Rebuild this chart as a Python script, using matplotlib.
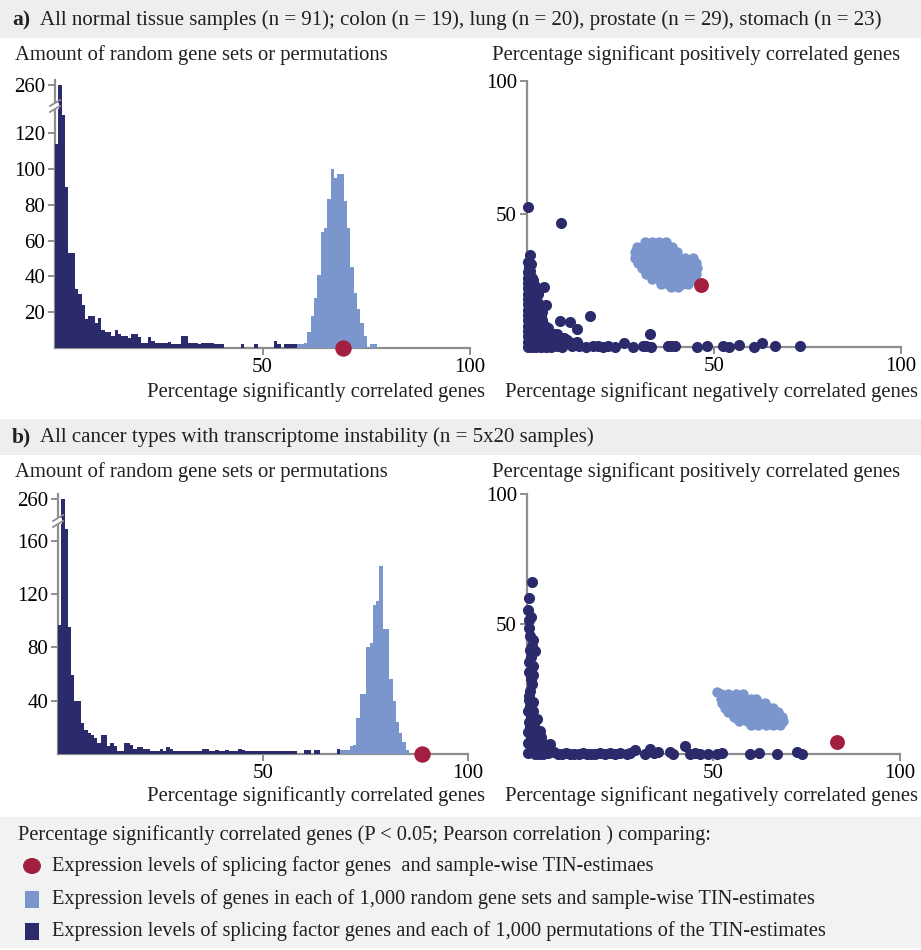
import numpy as np
import matplotlib
matplotlib.use('Agg')
from matplotlib import pyplot as plt
from matplotlib.patches import Rectangle, Ellipse
from matplotlib.lines import Line2D

plt.rcParams['font.family'] = ['Liberation Serif', 'DejaVu Serif']
plt.rcParams['font.size'] = 15
plt.rcParams['text.color'] = '#231f20'

NAVY = '#2b2a6b'
LIGHT = '#7b96cc'
RED = '#a31f3f'
AXIS = '#8e8e8e'
BAND = '#eeeeee'

BIN = 0.8  # histogram bin width in percent

# panel a: normal tissue
perm_a_start = 0.0
perm_a = [114, 260, 130, 90, 53, 53, 33, 30, 24, 16, 18, 18, 14, 17, 10, 9, 9, 7,
          10, 8, 7, 7, 5.5, 8, 8, 6, 3, 3, 6, 4, 3, 3, 3, 3, 3.5, 2, 2, 2, 7, 7,
          3, 3, 3, 2, 3, 3, 3, 3, 2, 2, 2,
          0, 0, 0, 0, 0, 2, 0, 0, 0, 2, 0, 0, 0, 0, 0, 4, 2, 0, 2, 2, 2, 2]
rand_a_start = 58.4
rand_a = [2, 2, 3, 9, 18, 28, 41, 65, 67, 83, 100, 95, 97, 97, 82, 67, 45, 31,
          22, 14, 7, 0, 2, 2]
sf_a = 69.5

# panel b: cancer types
perm_b_start = 0.0
perm_b = [97, 260, 169, 95, 59, 40, 40, 23, 18, 16, 14, 12, 8, 14, 14, 6, 8, 6,
          2.5, 2.5, 8, 8, 7, 4, 5.5, 5, 4, 4, 2, 2, 2, 4, 2, 5.5, 3.5, 2,
          2, 2, 2, 2, 2, 2, 2, 2, 4, 4,
          2.5, 2.5, 3, 2.5, 2.5, 3, 2.5, 2.5, 2.5, 3.5, 3, 2.5, 2.5, 2.5, 2, 2.5,
          2.5, 2, 2.5, 2.5, 2, 2.5, 2.5, 2.5, 2, 2.5, 2,
          0, 0, 3, 3, 0, 3, 3, 0, 0, 0, 0, 0, 4]
rand_b_start = 68.8
rand_b = [3, 3, 3, 6, 7, 27, 45, 45, 80, 83, 112, 115, 141, 94, 94, 56, 40, 24,
          16, 9, 3]
sf_b = 88.7

# scatter: splicing factor genes vs permuted TIN (negative %, positive %)
perm_pts_a = [
    (0.4, 0), (0.4, 2), (0.4, 4), (0.4, 6), (0.4, 8), (0.4, 10), (0.4, 12),
    (0.4, 14), (0.4, 16), (0.4, 18), (0.4, 20), (0.4, 22), (0.4, 24), (0.4, 26),
    (0.4, 28), (0.6, 30), (0.3, 32), (0.9, 34.6), (1.2, 31), (1.0, 28.5),
    (1.3, 26), (1.5, 23), (1.4, 20), (1.6, 17), (1.5, 14), (1.6, 11), (1.5, 8),
    (1.6, 5), (1.5, 2), (1.5, 0), (2.6, 0), (2.7, 3), (2.8, 6), (2.8, 9),
    (2.7, 12), (2.6, 15), (2.5, 18), (2.2, 23), (3.8, 0), (3.9, 2.5), (4.0, 5.5),
    (3.9, 8.5), (3.8, 11.5), (3.4, 14.0), (4.5, 22.7), (5.2, 15.8), (5.2, 0),
    (5.3, 2.5), (5.5, 5), (5.0, 8.0), (6.6, 0), (6.8, 2), (6.5, 4.5), (7.7, 5),
    (8.2, 0.5), (9.0, 1.5), (9.5, 0), (8.2, 4.9), (11.3, 2.0), (13.5, 2.0),
    (2.0, 1), (2.0, 4), (2.0, 7), (2.0, 10), (2.0, 13), (2.0, 16), (2.0, 19),
    (2.0, 22), (1.8, 25), (3.0, 1.5), (3.0, 4.5), (3.0, 7.5), (3.0, 10.5),
    (3.0, 13.5), (3.0, 16.5), (3.0, 20), (4.2, 1), (4.2, 4), (4.2, 7), (4.2, 10),
    (4.2, 13), (5.2, 1.5), (5.2, 4.5), (5.8, 7), (6.5, 1), (7.5, 2), (7.2, 3.5),
    (10.0, 1), (12.0, 1.5), (10.0, 3.5),
    (8.8, 9.9), (11.7, 9.3), (16.8, 11.8), (13.5, 6.6), (10.8, 2.5), (12.2, 0.5),
    (14.0, 0.3), (15.8, 0), (0.4, 52.4), (9.2, 46.7),
    (17.6, 0.3), (19.0, 0.3), (20.3, 0), (21.7, 0.3), (23.5, 0), (26.1, 1.6),
    (28.3, 0), (31.1, 0.3), (32.0, 0.5), (33.0, 4.8), (33.3, 0), (37.8, 0.3),
    (38.7, 0.5), (39.6, 0.3), (45.5, 0), (48.2, 0.2), (52.6, 0.5), (54.0, 0),
    (56.8, 0.8), (60.7, 0), (63.0, 1.4), (66.5, 0.3), (73.1, 0.3),
]
perm_pts_b = [
    (1.3, 66.1), (0.7, 59.9), (0.3, 55.4), (1.2, 52.8), (0.6, 51.5), (0.5, 48.6),
    (1.8, 44.1), (1.0, 45.5), (2.2, 39.6), (0.9, 40), (1.5, 41.5), (0.7, 35.5),
    (1.8, 33.9), (1.1, 37.5), (1.1, 29), (0.5, 31.5), (1.6, 30.5), (1.4, 27),
    (0.9, 24.5), (0.5, 22.5), (0.5, 20.7), (1.0, 18.5), (0.4, 16.5), (1.2, 14.5),
    (0.5, 12.5), (1.0, 10.5), (0.4, 8.5), (1.1, 6.5), (0.4, 4.5), (1.1, 2.5),
    (0.4, 0.5), (1.8, 16.5), (1.8, 20), (1.9, 5.5), (2.0, 2), (3.0, 1.5),
    (4.0, 3), (2.8, 8), (3.9, 6.5), (5.0, 2.5), (4.5, 0.2),
    (2.2, 0.3), (2.4, 3), (2.3, 6), (2.2, 9), (2.7, 13.6), (2.0, 11.5), (3.6, 9.1),
    (3.3, 6), (3.2, 3), (3.4, 0.3), (4.5, 1.5), (4.6, 4), (6.3, 3.9), (5.6, 0.5),
    (7.2, 0.8), (8.3, 0.2), (9.4, 0.3), (10.6, 0.5), (11.6, 0.2), (12.8, 0.3),
    (13.9, 0.2), (15.0, 0.4), (16.1, 0.2), (17.2, 0.3), (18.3, 0.2), (19.6, 0.4),
    (21.0, 0.3), (22.3, 0.5), (23.7, 0.2), (25.0, 0.4), (26.8, 0.2), (27.8, 0.6),
    (29.0, 1.8), (31.7, 0.2), (33.1, 2.0), (34.2, 0.6), (35.3, 1.0), (38.4, 1.0),
    (39.3, 0.2), (42.4, 3.2), (43.8, 0.3), (45.2, 0.5), (46.5, 0.2), (48.7, 0.3),
    (51.0, 0.2), (52.3, 0.4), (59.9, 0.2), (62.1, 0.4), (67.0, 0.2), (72.4, 0.9),
    (73.7, 0.1),
]

# scatter: random gene sets vs TIN
rand_pts_a = [
    (31.5, 39.3), (33.5, 39.3), (35.5, 39.3), (37.3, 39.3),
    (29.5, 37.5), (31.3, 37.5), (33.2, 37.5), (35.1, 37.5), (37.0, 37.5), (38.8, 37.5),
    (29.0, 35.5), (30.9, 35.5), (32.8, 35.5), (34.7, 35.5), (36.6, 35.5), (38.5, 35.5),
    (40.2, 35.5),
    (29.0, 33.5), (30.9, 33.5), (32.8, 33.5), (34.7, 33.5), (36.6, 33.5), (38.5, 33.5),
    (40.4, 33.5), (42.3, 33.5), (44.5, 33.5),
    (29.8, 31.5), (31.7, 31.5), (33.6, 31.5), (35.5, 31.5), (37.4, 31.5), (39.3, 31.5),
    (41.2, 31.5), (43.1, 31.5), (45.2, 31.5),
    (30.8, 29.5), (32.7, 29.5), (34.6, 29.5), (36.5, 29.5), (38.4, 29.5), (40.3, 29.5),
    (42.2, 29.5), (44.1, 29.5), (45.6, 29.5),
    (32.0, 27.5), (33.9, 27.5), (35.8, 27.5), (37.7, 27.5), (39.6, 27.5), (41.5, 27.5),
    (43.4, 27.5), (45.3, 27.5),
    (33.6, 25.5), (35.5, 25.5), (37.4, 25.5), (39.3, 25.5), (41.2, 25.5), (43.1, 25.5),
    (44.6, 25.5),
    (35.8, 23.6), (37.7, 23.6), (39.6, 23.6), (41.5, 23.6), (43.0, 23.6),
    (38.5, 22.7), (40.5, 22.7),
]
rand_pts_b = [
    (51.0, 24.0),
    (52.0, 23.0), (54.0, 23.0), (56.0, 23.0), (58.0, 23.0),
    (52.0, 21.3), (54.0, 21.3), (56.0, 21.3), (58.0, 21.3), (60.0, 21.3), (61.5, 21.3),
    (52.3, 19.6), (54.3, 19.6), (56.3, 19.6), (58.3, 19.6), (60.3, 19.6), (62.3, 19.6),
    (63.8, 19.6),
    (53.0, 17.9), (55.0, 17.9), (57.0, 17.9), (59.0, 17.9), (61.0, 17.9), (63.0, 17.9),
    (65.0, 17.9), (66.0, 17.9),
    (54.0, 16.2), (56.0, 16.2), (58.0, 16.2), (60.0, 16.2), (62.0, 16.2), (64.0, 16.2),
    (66.0, 16.2), (67.3, 16.2),
    (55.5, 14.5), (57.5, 14.5), (59.5, 14.5), (61.5, 14.5), (63.5, 14.5), (65.5, 14.5),
    (67.5, 14.5), (68.5, 14.5),
    (57.0, 12.8), (59.0, 12.8), (61.0, 12.8), (63.0, 12.8), (65.0, 12.8), (67.0, 12.8),
    (68.6, 12.8),
    (60.0, 11.1), (62.0, 11.1), (64.0, 11.1), (66.0, 11.1), (67.8, 11.1),
]
sf_pt_a = (46.7, 23.3)
sf_pt_b = (83.1, 4.9)

W, H = 921, 950
fig = plt.figure(figsize=(W / 100, H / 100), dpi=100)


def px_axes(x0, y0, x1, y1):
    return fig.add_axes([x0 / W, 1 - y1 / H, (x1 - x0) / W, (y1 - y0) / H])


def fig_rect(x0, y0, x1, y1, color):
    fig.add_artist(Rectangle((x0 / W, 1 - y1 / H), (x1 - x0) / W, (y1 - y0) / H,
                             transform=fig.transFigure, facecolor=color,
                             edgecolor='none', zorder=0))


def fig_text(x, y, s, **kw):
    fig.text(x / W, 1 - y / H, s, **kw)


def broken(cut, k):
    def fwd(y):
        y = np.asarray(y, dtype=float)
        return np.where(y <= cut, y, cut + (y - cut) * k)

    def inv(y):
        y = np.asarray(y, dtype=float)
        return np.where(y <= cut, y, cut + (y - cut) / k)
    return fwd, inv


def style_axes(ax, xticks, yticks):
    for side in ['top', 'right']:
        ax.spines[side].set_visible(False)
    for side in ['left', 'bottom']:
        ax.spines[side].set_color(AXIS)
        ax.spines[side].set_linewidth(1.6)
    ax.set_xticks(xticks)
    ax.set_yticks(yticks)
    ax.tick_params(direction='out', length=5, width=1.4, color=AXIS,
                   labelsize=15, pad=2)
    ax.patch.set_alpha(0)


def break_mark(x, y):
    # white gap and slashes on the y axis
    fig.add_artist(Rectangle(((x - 4) / W, 1 - (y + 3) / H), 8 / W, 6 / H,
                             transform=fig.transFigure, facecolor='white',
                             edgecolor='none', zorder=5))
    for dy in (-3, 3):
        fig.add_artist(Line2D([(x - 5) / W, (x + 5) / W],
                              [1 - (y + dy + 3) / H, 1 - (y + dy - 3) / H],
                              transform=fig.transFigure, color=AXIS, lw=1.3,
                              zorder=6))


def histogram(box, perm, perm_start, rand, rand_start, sf, cut, k, ytop,
              yticks, brk_y):
    ax = px_axes(*box)
    ax.set_yscale('function', functions=broken(cut, k))
    xp = perm_start + BIN * np.arange(len(perm))
    xr = rand_start + BIN * np.arange(len(rand))
    ax.bar(xp, perm, width=BIN, align='edge', color=NAVY, lw=0, zorder=3)
    ax.bar(xr, rand, width=BIN, align='edge', color=LIGHT, lw=0, zorder=3)
    ax.scatter([sf], [0], s=140, color=RED, zorder=5, clip_on=False, lw=0)
    ax.set_xlim(0, 100)
    ax.set_ylim(-2.2, ytop)
    style_axes(ax, [50, 100], yticks)
    ax.spines['bottom'].set_position(('data', 0))
    ax.spines['left'].set_bounds(0, ytop)
    ax.set_yticklabels([str(t) for t in yticks])
    break_mark(box[0], brk_y)
    return ax


def scatter(box, perm_pts, rand_pts, sf_pt):
    ax = px_axes(*box)
    px, py = zip(*perm_pts)
    rx, ry = zip(*rand_pts)
    ax.scatter(px, py, s=64, color=NAVY, lw=0, clip_on=False, zorder=3)
    ax.scatter(rx, ry, s=56, color=LIGHT, lw=0, clip_on=False, zorder=3)
    ax.scatter([sf_pt[0]], [sf_pt[1]], s=115, color=RED, lw=0, clip_on=False,
               zorder=4)
    ax.set_xlim(0, 100)
    ax.set_ylim(0, 100)
    style_axes(ax, [50, 100], [50, 100])
    return ax


# header bands and legend background
fig_rect(0, 0, W, 38, BAND)
fig_rect(0, 419, W, 455, BAND)
fig_rect(0, 817, W, 948, '#f2f2f2')

fig_text(12, 20, 'a)', fontsize=15.5, fontweight='bold', va='center')
fig_text(40, 20, 'All normal tissue samples (n = 91); colon (n = 19), lung (n = 20), '
         'prostate (n = 29), stomach (n = 23)', fontsize=15.0, va='center')
fig_text(12, 437, 'b)', fontsize=15.5, fontweight='bold', va='center')
fig_text(40, 437, 'All cancer types with transcriptome instability (n = 5x20 samples)',
         fontsize=15.0, va='center')

LBL = 14.9

# panel a
histogram((55, 80, 470, 352), perm_a, perm_a_start, rand_a, rand_a_start, sf_a,
          135, 0.096, 288, [20, 40, 60, 80, 100, 120, 260], 106)
scatter((526.7, 80.7, 900.7, 347), perm_pts_a, rand_pts_a, sf_pt_a)
fig_text(15, 55, 'Amount of random gene sets or permutations', fontsize=LBL,
         va='center')
fig_text(485, 392, 'Percentage significantly correlated genes', fontsize=LBL,
         va='center', ha='right')
fig_text(492, 55, 'Percentage significant positively correlated genes',
         fontsize=LBL, va='center')
fig_text(918, 392, 'Percentage significant negatively correlated genes',
         fontsize=LBL, va='center', ha='right')

# panel b
histogram((58, 494, 468, 757), perm_b, perm_b_start, rand_b, rand_b_start, sf_b,
          175, 0.19, 280, [40, 80, 120, 160, 260], 521)
scatter((526.7, 494, 900, 754.3), perm_pts_b, rand_pts_b, sf_pt_b)
fig_text(15, 472, 'Amount of random gene sets or permutations', fontsize=LBL,
         va='center')
fig_text(485, 796, 'Percentage significantly correlated genes', fontsize=LBL,
         va='center', ha='right')
fig_text(492, 472, 'Percentage significant positively correlated genes',
         fontsize=LBL, va='center')
fig_text(918, 796, 'Percentage significant negatively correlated genes',
         fontsize=LBL, va='center', ha='right')

# legend
LEG = 14.7
fig_text(18, 835, 'Percentage significantly correlated genes (P < 0.05; Pearson '
         'correlation ) comparing:', fontsize=LEG, va='center')
fig.add_artist(Ellipse((32 / W, 1 - 866 / H), 18 / W, 16 / H,
                       transform=fig.transFigure, facecolor=RED, edgecolor='none'))
fig.add_artist(Rectangle((25 / W, 1 - 908 / H), 14 / W, 17 / H,
                         transform=fig.transFigure, facecolor=LIGHT,
                         edgecolor='none'))
fig.add_artist(Rectangle((25 / W, 1 - 940 / H), 14 / W, 17 / H,
                         transform=fig.transFigure, facecolor=NAVY,
                         edgecolor='none'))
fig_text(52, 866, 'Expression levels of splicing factor genes  and sample-wise '
         'TIN-estimaes', fontsize=LEG, va='center')
fig_text(52, 899, 'Expression levels of genes in each of 1,000 random gene sets '
         'and sample-wise TIN-estimates', fontsize=LEG, va='center')
fig_text(52, 931, 'Expression levels of splicing factor genes and each of 1,000 '
         'permutations of the TIN-estimates', fontsize=LEG, va='center')

fig.savefig('out.png', dpi=100)
